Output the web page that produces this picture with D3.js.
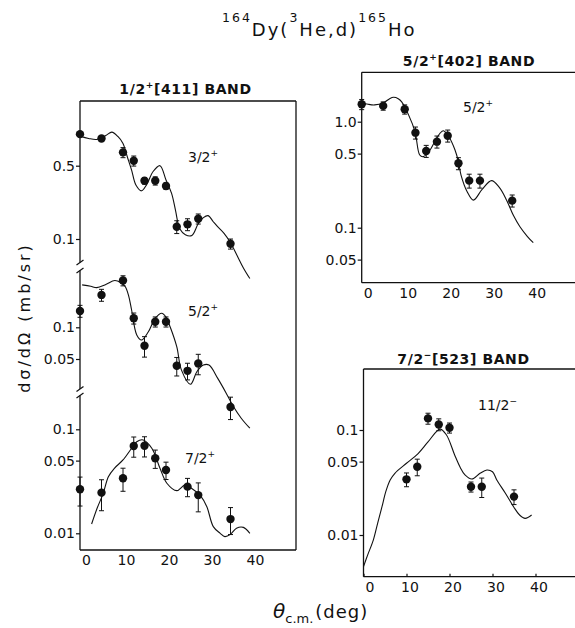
<!DOCTYPE html>
<html><head><meta charset="utf-8">
<script src="https://cdn.jsdelivr.net/npm/d3@7"></script>
<style>
html,body{margin:0;padding:0;background:#fff;}
svg{display:block;font-family:"DejaVu Sans",sans-serif;}
</style></head><body>
<svg id="chart" width="575" height="628"></svg>
<script>
// ---------- data ----------
const thetaTicks = [0, 10, 20, 30, 40];

// 1/2+[411] band : 3/2+ state
const ang32 = [0, 5, 10, 12.5, 15, 17.5, 20, 22.5, 25, 27.5, 35];
const val32 = [1.0, 0.91, 0.67, 0.557, 0.359, 0.359, 0.32, 0.131, 0.138, 0.156, 0.090];
const err32 = [0.04, 0.04, 0.11, 0.11, 0.07, 0.09, 0.07, 0.14, 0.13, 0.11, 0.11];
const thAng32 = [0, 2, 3.9, 6, 7.4, 8.8, 10, 11, 12, 13, 14.3, 15.5, 17, 18.6, 20, 21.3, 22.2, 23.2, 24.5, 26, 27.5, 28.7, 29.8, 31, 32, 33.5, 35, 36.5, 38, 39.5];
const thVal32 = [0.957, 0.91, 0.89, 0.97, 1.045, 0.95, 0.815, 0.608, 0.454, 0.327, 0.288, 0.33, 0.44, 0.50, 0.365, 0.272, 0.189, 0.125, 0.11, 0.108, 0.14, 0.16, 0.167, 0.146, 0.131, 0.113, 0.092, 0.07, 0.053, 0.042];

// 1/2+[411] band : 5/2+ state
const ang52a = [0, 5, 10, 12.5, 15, 17.5, 20, 22.5, 25, 27.5, 35];
const val52a = [0.143, 0.203, 0.278, 0.122, 0.0668, 0.113, 0.113, 0.0431, 0.0386, 0.0454, 0.0175];
const err52a = [0.13, 0.13, 0.11, 0.12, 0.22, 0.11, 0.11, 0.2, 0.18, 0.22, 0.24];
const thAng52a = [0.5, 2.5, 3.9, 6, 8.1, 9.5, 10.5, 11.3, 12, 13.2, 14.3, 15.9, 17.5, 19, 20, 21, 22.5, 23.6, 25.7, 27.2, 28.7, 30, 32, 34, 35.5, 37.5, 39.5];
const thVal52a = [0.253, 0.245, 0.238, 0.255, 0.278, 0.265, 0.244, 0.2, 0.146, 0.0845, 0.0757, 0.0908, 0.122, 0.136, 0.125, 0.1, 0.0654, 0.0392, 0.0288, 0.038, 0.0438, 0.0438, 0.0329, 0.0237, 0.0182, 0.0137, 0.011];

// 1/2+[411] band : 7/2+ state
const ang72 = [0, 5, 10, 12.5, 15, 17.5, 20, 25, 27.5, 35];
const val72 = [0.0265, 0.0246, 0.0338, 0.0691, 0.0695, 0.0526, 0.0406, 0.0281, 0.0233, 0.0137];
const err72 = [0.31, 0.33, 0.25, 0.22, 0.22, 0.2, 0.19, 0.2, 0.31, 0.29];
const thAng72 = [2.7, 4, 5.4, 6.6, 8, 10, 12, 13.2, 14.7, 16.7, 18.6, 20.2, 22.5, 24.4, 26, 28, 29.5, 31, 32.6, 33.7, 35, 36.4, 38, 39.5];
const thVal72 = [0.0123, 0.0175, 0.0242, 0.035, 0.0422, 0.0507, 0.0657, 0.076, 0.079, 0.0657, 0.0422, 0.0303, 0.0257, 0.0291, 0.027, 0.023, 0.018, 0.0116, 0.01, 0.0093, 0.0098, 0.0112, 0.0114, 0.01];

// 5/2+[402] band : 5/2+ state
const ang52b = [0, 5, 10, 12.5, 15, 17.5, 20, 22.5, 25, 27.5, 35];
const val52b = [1.46, 1.41, 1.31, 0.788, 0.529, 0.648, 0.738, 0.405, 0.278, 0.278, 0.18];
const err52b = [0.11, 0.09, 0.1, 0.13, 0.13, 0.13, 0.13, 0.13, 0.15, 0.15, 0.13];
const thAng52b = [0, 1.5, 3, 5, 6.5, 7.4, 8.5, 9.3, 10.9, 12.4, 13.5, 14.3, 15.9, 17, 18.2, 19, 20.3, 21.7, 22.5, 23.1, 24.5, 26, 28, 30.2, 32, 33.7, 35.3, 36.8, 38.5, 39.9];
const thVal52b = [1.51, 1.46, 1.44, 1.5, 1.65, 1.70, 1.65, 1.54, 1.16, 0.805, 0.485, 0.468, 0.541, 0.65, 0.777, 0.822, 0.717, 0.541, 0.42, 0.314, 0.22, 0.182, 0.23, 0.278, 0.24, 0.182, 0.13, 0.102, 0.083, 0.0722];

// 7/2-[523] band : 11/2- state
const ang112 = [10, 12.5, 15, 17.5, 20, 25, 27.5, 35];
const val112 = [0.0339, 0.0447, 0.129, 0.113, 0.105, 0.0288, 0.0288, 0.0232];
const err112 = [0.15, 0.18, 0.12, 0.13, 0.11, 0.11, 0.21, 0.16];
const thAng112 = [0, 1, 2.3, 3.3, 4.3, 5.2, 6.2, 7.3, 10, 12.7, 15, 17.8, 19.3, 21.2, 22.5, 23.6, 25.2, 27.1, 28.7, 30, 31, 33, 34.9, 36.3, 37.6, 39.1];
const thVal112 = [0.005, 0.0065, 0.009, 0.013, 0.0186, 0.026, 0.0334, 0.0387, 0.0482, 0.0597, 0.077, 0.102, 0.0896, 0.0578, 0.044, 0.0373, 0.0341, 0.0387, 0.0416, 0.04, 0.0334, 0.025, 0.0186, 0.0155, 0.0144, 0.0155];

// tick values / labels
const yTicksTop = [0.5, 0.1], yLabTop = ["0.5", "0.1"];
const yTicksMid = [0.1, 0.05], yLabMid = ["0.1", "0.05"];
const yTicksBot = [0.1, 0.05, 0.01], yLabBot = ["0.1", "0.05", "0.01"];
const yTicksTR = [1.0, 0.5, 0.1, 0.05], yLabTR = ["1.0", "0.5", "0.1", "0.05"];
const yTicksBR = [0.1, 0.05, 0.01], yLabBR = ["0.1", "0.05", "0.01"];

// ---------- drawing ----------
const svg = d3.select("#chart");
const ink = "#111";
const FONT = "DejaVu Sans, sans-serif";

const xL = d3.scaleLinear().domain([0, 50]).range([80, 295]);
const yTop = d3.scaleLog().domain([0.1, 0.5]).range([239, 165.7]);
const yMid = d3.scaleLog().domain([0.05, 0.1]).range([359, 327.3]);
const yBot = d3.scaleLog().domain([0.01, 0.1]).range([533.3, 429.3]);
const xTR = d3.scaleLinear().domain([0, 50]).range([361.7, 576.7]);
const yTR = d3.scaleLog().domain([0.1, 1]).range([227.7, 121.7]);
const xBR = d3.scaleLinear().domain([0, 50]).range([363.5, 578.5]);
const yBR = d3.scaleLog().domain([0.01, 0.1]).range([535, 430]);

function seg(x1, y1, x2, y2, w) {
  svg.append("line").attr("x1", x1).attr("y1", y1).attr("x2", x2).attr("y2", y2)
    .attr("stroke", ink).attr("stroke-width", w || 1.3);
}

// frames
seg(80, 101, 296, 101); seg(296, 101, 296, 550); seg(80, 550, 296, 550);
seg(80, 101, 80, 262.5); seg(80, 270.5, 80, 389); seg(80, 395.5, 80, 550);
[262.5, 270.5, 389, 395.5].forEach(y => seg(76.5, y + 2.5, 83.5, y - 2.5, 1.2));
seg(361.7, 72.3, 361.7, 282.7); seg(361.7, 72.3, 575, 72.3); seg(361.7, 282.7, 575, 282.7);
seg(363.5, 369, 363.5, 576.7); seg(363.5, 369, 575, 369); seg(363.5, 576.7, 575, 576.7);

function styleAxis(g) {
  g.select(".domain").remove();
  g.attr("font-family", FONT).attr("font-size", 14);
  g.selectAll("line").attr("stroke", ink).attr("stroke-width", 1.2);
  g.selectAll("text").attr("fill", ink);
}
function xAxis(x, y0, inner) {
  svg.append("g").attr("transform", `translate(0,${y0})`)
    .call(d3.axisBottom(x).tickValues(thetaTicks).tickFormat(d3.format("d"))
      .tickSizeInner(inner).tickSizeOuter(0).tickPadding(5.5))
    .call(styleAxis)
    .call(g => g.selectAll("text").attr("dx", d => d === 0 ? 6 : 3));
}
xAxis(xL, 550, 0);
xAxis(xTR, 282.7, 0);
xAxis(xBR, 576.7, -3);

function yAxis(y, x0, ticks, labs) {
  svg.append("g").attr("transform", `translate(${x0},0)`)
    .call(d3.axisLeft(y).tickValues(ticks).tickFormat((d, i) => labs[i])
      .tickSizeInner(4).tickSizeOuter(0).tickPadding(1))
    .call(styleAxis);
}
yAxis(yTop, 80, yTicksTop, yLabTop);
yAxis(yMid, 80, yTicksMid, yLabMid);
yAxis(yBot, 80, yTicksBot, yLabBot);
yAxis(yTR, 361.7, yTicksTR, yLabTR);
yAxis(yBR, 363.5, yTicksBR, yLabBR);

function series(x, y, ang, val, err, thAng, thVal) {
  const g = svg.append("g");
  const line = d3.line()
    .x((d, i) => x(thAng[i])).y(d => y(d))
    .curve(d3.curveCatmullRom.alpha(0.5));
  g.append("path").datum(thVal).attr("d", line)
    .attr("fill", "none").attr("stroke", ink).attr("stroke-width", 1.1);
  const pts = ang.map((a, i) => ({ a, v: val[i], e: err[i] }));
  g.selectAll(".eb").data(pts).join("line").attr("class", "eb")
    .attr("x1", d => x(d.a)).attr("x2", d => x(d.a))
    .attr("y1", d => y(d.v * (1 + d.e))).attr("y2", d => y(d.v * (1 - d.e)))
    .attr("stroke", ink).attr("stroke-width", 1);
  ["hi", "lo"].forEach(k => {
    g.selectAll(".cap" + k).data(pts).join("line").attr("class", "cap" + k)
      .attr("x1", d => x(d.a) - 2.5).attr("x2", d => x(d.a) + 2.5)
      .attr("y1", d => y(d.v * (k === "hi" ? 1 + d.e : 1 - d.e)))
      .attr("y2", d => y(d.v * (k === "hi" ? 1 + d.e : 1 - d.e)))
      .attr("stroke", ink).attr("stroke-width", 1);
  });
  g.selectAll("circle").data(pts).join("circle")
    .attr("cx", d => x(d.a)).attr("cy", d => y(d.v)).attr("r", 4.2).attr("fill", ink);
}
series(xL, yTop, ang32, val32, err32, thAng32, thVal32);
series(xL, yMid, ang52a, val52a, err52a, thAng52a, thVal52a);
series(xL, yBot, ang72, val72, err72, thAng72, thVal72);
series(xTR, yTR, ang52b, val52b, err52b, thAng52b, thVal52b);
series(xBR, yBR, ang112, val112, err112, thAng112, thVal112);

// state labels
function stateLabel(x, y, main, sup) {
  const t = svg.append("text").attr("x", x).attr("y", y)
    .attr("font-family", FONT).attr("font-size", 14).attr("fill", ink);
  t.append("tspan").text(main);
  t.append("tspan").attr("font-size", 9).attr("dy", -6).text(sup);
}
stateLabel(188, 161.7, "3/2", "+");
stateLabel(188, 316, "5/2", "+");
stateLabel(185, 463, "7/2", "+");
stateLabel(463, 111.7, "5/2", "+");
stateLabel(478, 410, "11/2", "\u2212");

// band titles
function bandTitle(cx, y, a, sup, b) {
  const t = svg.append("text").attr("x", cx).attr("y", y).attr("text-anchor", "middle")
    .attr("font-family", FONT).attr("font-size", 14).attr("font-weight", "bold")
    .attr("letter-spacing", 0.6).attr("fill", ink);
  t.append("tspan").text(a);
  t.append("tspan").attr("font-size", 9).attr("dy", -6).text(sup);
  t.append("tspan").attr("dy", 6).text(b);
}
bandTitle(185.5, 94, "1/2", "+", "[411] BAND");
bandTitle(469, 66, "5/2", "+", "[402] BAND");
bandTitle(463.5, 364, "7/2", "\u2212", "[523] BAND");

// main title
(function () {
  const t = svg.append("text").attr("x", 222).attr("y", 36)
    .attr("font-family", FONT).attr("font-size", 18).attr("letter-spacing", 2).attr("fill", ink);
  const parts = [["164", true], ["Dy(", false], ["3", true], ["He,d)", false], ["165", true], ["Ho", false]];
  let up = false;
  parts.forEach(([s, sup]) => {
    const ts = t.append("tspan").text(s);
    if (sup) { ts.attr("font-size", 12.5).attr("dy", up ? 0 : -14); up = true; }
    else { ts.attr("dy", up ? 14 : 0); up = false; }
  });
})();

// y axis label
svg.append("text").attr("transform", "translate(29.5,317.5) rotate(-90)")
  .attr("text-anchor", "middle").attr("font-family", FONT).attr("font-size", 16)
  .attr("letter-spacing", 3).attr("fill", ink).text("d\u03c3/d\u03a9 (mb/sr)");

// x axis label
(function () {
  const t = svg.append("text").attr("x", 273).attr("y", 618)
    .attr("font-family", FONT).attr("fill", ink);
  t.append("tspan").attr("font-size", 20).attr("font-style", "italic").text("\u03b8");
  t.append("tspan").attr("font-size", 13).attr("dy", 5).text("c.m.");
  t.append("tspan").attr("font-size", 18).attr("dy", -5).attr("dx", 2).attr("letter-spacing", 1).text("(deg)");
})();
</script>
</body></html>
